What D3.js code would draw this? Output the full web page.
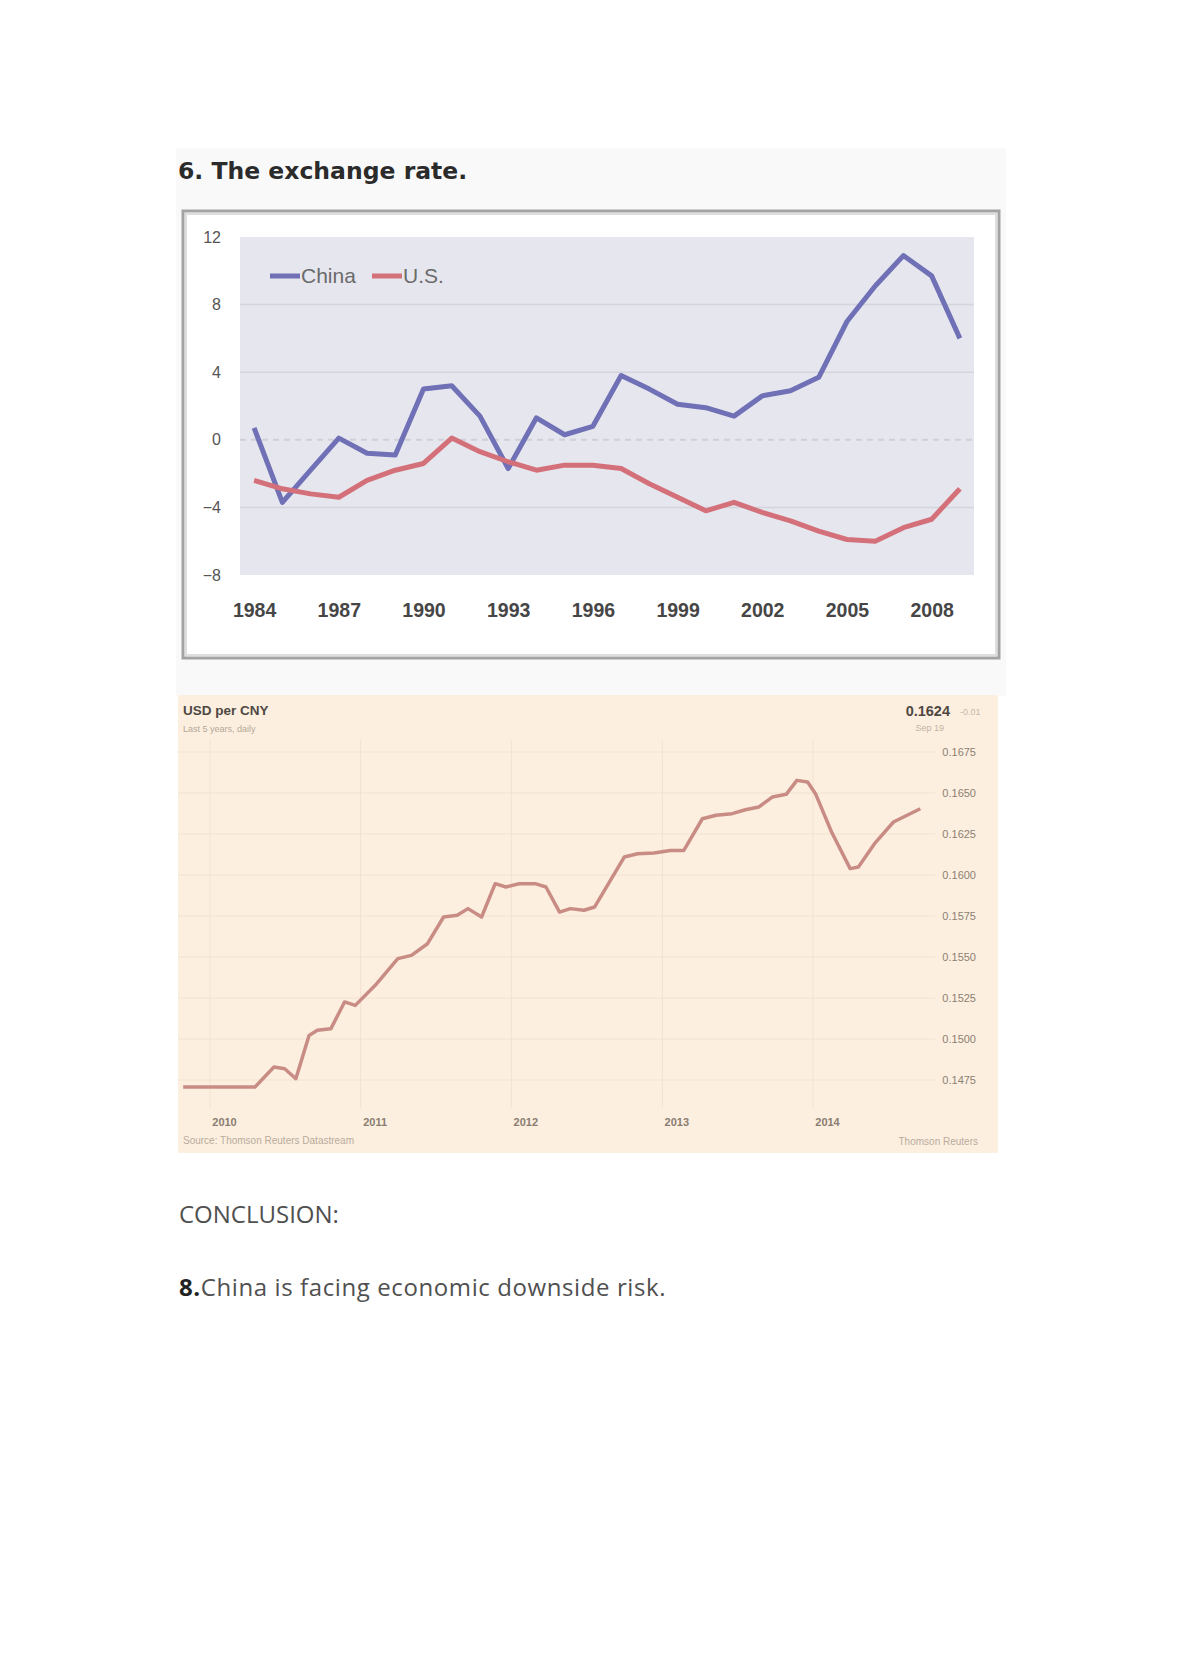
<!DOCTYPE html>
<html>
<head>
<meta charset="utf-8">
<script src="https://cdn.jsdelivr.net/npm/d3@7"></script>
<style>
  html, body { margin: 0; padding: 0; background: #ffffff; }
  svg { display: block; }
</style>
</head>
<body>
<svg id="page" width="1180" height="1669"></svg>
<script>
// ---------- Chart 1: current account balance (% of GDP) ----------
const years = [1984, 1985, 1986, 1987, 1988, 1989, 1990, 1991, 1992, 1993, 1994, 1995, 1996,
               1997, 1998, 1999, 2000, 2001, 2002, 2003, 2004, 2005, 2006, 2007, 2008, 2009];
const chinaValues = [0.7, -3.7, -1.8, 0.1, -0.8, -0.9, 3.0, 3.2, 1.4, -1.7, 1.3, 0.3, 0.8,
                     3.8, 3.0, 2.1, 1.9, 1.4, 2.6, 2.9, 3.7, 7.0, 9.1, 10.9, 9.7, 6.0];
const usValues = [-2.4, -2.9, -3.2, -3.4, -2.4, -1.8, -1.4, 0.1, -0.7, -1.3, -1.8, -1.5, -1.5,
                  -1.7, -2.6, -3.4, -4.2, -3.7, -4.3, -4.8, -5.4, -5.9, -6.0, -5.2, -4.7, -2.9];
const seriesNames = ["China", "U.S."];
const yTicks1 = [12, 8, 4, 0, -4, -8];
const xTickYears = [1984, 1987, 1990, 1993, 1996, 1999, 2002, 2005, 2008];

// ---------- Chart 2: USD per CNY ----------
const ftDates = ["2009-10-28", "2010-04-20", "2010-06-05", "2010-07-01", "2010-07-28", "2010-08-29",
  "2010-09-18", "2010-10-21", "2010-11-23", "2010-12-19", "2011-02-09", "2011-04-01", "2011-05-04",
  "2011-06-12", "2011-07-21", "2011-08-23", "2011-09-18", "2011-10-21", "2011-11-23", "2011-12-19",
  "2012-01-20", "2012-02-28", "2012-03-25", "2012-04-27", "2012-05-23", "2012-06-25", "2012-07-21",
  "2012-10-01", "2012-11-02", "2012-12-12", "2013-01-20", "2013-02-22", "2013-04-08", "2013-05-11",
  "2013-06-19", "2013-07-21", "2013-08-23", "2013-09-25", "2013-10-28", "2013-11-23", "2013-12-19",
  "2014-01-07", "2014-02-15", "2014-04-01", "2014-04-21", "2014-05-30", "2014-07-15", "2014-08-17",
  "2014-09-18"];
const ftValues = [0.14707, 0.14707, 0.14829, 0.14819, 0.14758, 0.15022,
  0.15053, 0.15063, 0.15226, 0.15205, 0.15337, 0.15490, 0.15510,
  0.15581, 0.15744, 0.15754, 0.15795, 0.15744, 0.15947, 0.15927,
  0.15947, 0.15947, 0.15927, 0.15774, 0.15795, 0.15785, 0.15805,
  0.16110, 0.16130, 0.16134, 0.16150, 0.16150, 0.16343, 0.16364,
  0.16374, 0.16398, 0.16415, 0.16476, 0.16492, 0.16577, 0.16567,
  0.16496, 0.16262, 0.16039, 0.16049, 0.16191, 0.16323, 0.16364,
  0.16404];
const ftTicks = [0.1675, 0.1650, 0.1625, 0.1600, 0.1575, 0.1550, 0.1525, 0.1500, 0.1475];
const ftYears = [2010, 2011, 2012, 2013, 2014];

// ---------- texts ----------
const titleText = "6. The exchange rate.";
const ftTitle = "USD per CNY";
const ftSubtitle = "Last 5 years, daily";
const ftLatest = "0.1624";
const ftChange = "-0.01";
const ftLatestDate = "Sep 19";
const ftSource = "Source: Thomson Reuters Datastream";
const ftCredit = "Thomson Reuters";
const conclusionHead = "CONCLUSION:";
const conclusionNum = "8.";
const conclusionText = "China is facing economic downside risk.";

const svg = d3.select("#page");

// faint article background
svg.append("rect").attr("x", 176).attr("y", 148).attr("width", 830).attr("height", 548)
  .attr("fill", "#f9f9f9");

// title
svg.append("text").attr("x", 178).attr("y", 179)
  .attr("font-family", "DejaVu Sans, Verdana, sans-serif").attr("font-weight", "bold")
  .attr("font-size", 23.5).attr("fill", "#2b2b2b").text(titleText);

// ---------- Chart 1 ----------
const frame = svg.append("g");
frame.append("rect").attr("x", 183).attr("y", 211).attr("width", 816).attr("height", 447)
  .attr("fill", "#ffffff").attr("stroke", "#a3a3a3").attr("stroke-width", 3);
frame.append("rect").attr("x", 186).attr("y", 214).attr("width", 810).attr("height", 441)
  .attr("fill", "none").attr("stroke", "#dedede").attr("stroke-width", 2);

const x1 = d3.scalePoint().domain(years).range([240, 974]).padding(0.5);
const y1 = d3.scaleLinear().domain([-8, 12]).range([575, 237]);

const plot = svg.append("g");
plot.append("rect").attr("x", 240).attr("y", y1(12)).attr("width", 734)
  .attr("height", y1(-8) - y1(12)).attr("fill", "#e6e7ee");

plot.selectAll("line.grid").data(yTicks1.filter(d => d !== 0 && d !== 12 && d !== -8)).join("line")
  .attr("class", "grid").attr("x1", 240).attr("x2", 974)
  .attr("y1", d => y1(d)).attr("y2", d => y1(d))
  .attr("stroke", "#d3d4dc").attr("stroke-width", 1.5);
plot.append("line").attr("x1", 240).attr("x2", 974).attr("y1", y1(0)).attr("y2", y1(0))
  .attr("stroke", "#cfd0d8").attr("stroke-width", 2).attr("stroke-dasharray", "6,5");

// y axis labels
const yAxis1 = d3.axisLeft(y1).tickValues(yTicks1).tickSize(0).tickPadding(0).tickFormat(d3.format("d"));
const gy1 = svg.append("g").attr("transform", "translate(221,0)").call(yAxis1);
gy1.select(".domain").remove();
gy1.selectAll("text").attr("font-family", "Liberation Sans, Arial, sans-serif")
  .attr("font-size", 16).attr("fill", "#555555");

// x axis labels
const xAxis1 = d3.axisBottom(x1).tickValues(xTickYears).tickSize(0).tickPadding(0);
const gx1 = svg.append("g").attr("transform", "translate(0,603)").call(xAxis1);
gx1.select(".domain").remove();
gx1.selectAll("text").attr("font-family", "Liberation Sans, Arial, sans-serif")
  .attr("font-size", 19.5).attr("font-weight", "bold").attr("fill", "#464646");

const line1 = d3.line().x((d, i) => x1(years[i])).y(d => y1(d));
const colors1 = ["#7070b6", "#d4707a"];
[chinaValues, usValues].forEach((vals, k) => {
  plot.append("path").datum(vals).attr("d", line1).attr("fill", "none")
    .attr("stroke", colors1[k]).attr("stroke-width", 5).attr("stroke-linejoin", "round");
});

// legend
const legend = svg.append("g").attr("font-family", "Liberation Sans, Arial, sans-serif")
  .attr("font-size", 21).attr("fill", "#6a6a6a");
const legendX = [270, 372];
seriesNames.forEach((name, k) => {
  legend.append("line").attr("x1", legendX[k]).attr("x2", legendX[k] + 30)
    .attr("y1", 276).attr("y2", 276).attr("stroke", colors1[k]).attr("stroke-width", 5);
  legend.append("text").attr("x", legendX[k] + 31).attr("y", 283).text(name);
});

// ---------- Chart 2 (FT style) ----------
const ft = svg.append("g");
ft.append("rect").attr("x", 178).attr("y", 695).attr("width", 820).attr("height", 458)
  .attr("fill", "#fcefe0");

const parse = d3.timeParse("%Y-%m-%d");
const x2 = d3.scaleTime().domain([parse("2010-01-01"), parse("2014-01-01")]).range([210, 813]);
const y2 = d3.scaleLinear().domain([0.1475, 0.1675]).range([1080, 752]);

ft.selectAll("line.hgrid").data(ftTicks).join("line").attr("class", "hgrid")
  .attr("x1", 178).attr("x2", 935).attr("y1", d => y2(d)).attr("y2", d => y2(d))
  .attr("stroke", "#f3e1cf").attr("stroke-width", 1);
ft.selectAll("line.vgrid").data(ftYears).join("line").attr("class", "vgrid")
  .attr("x1", d => x2(parse(d + "-01-01"))).attr("x2", d => x2(parse(d + "-01-01")))
  .attr("y1", 740).attr("y2", 1108).attr("stroke", "#f3e1cf").attr("stroke-width", 1);

const yAxis2 = d3.axisRight(y2).tickValues(ftTicks).tickSize(0).tickPadding(0).tickFormat(d3.format(".4f"));
const gy2 = ft.append("g").attr("transform", "translate(976,0)").call(yAxis2);
gy2.select(".domain").remove();
gy2.selectAll("text").attr("text-anchor", "end").attr("font-family", "Liberation Sans, Arial, sans-serif")
  .attr("font-size", 11).attr("fill", "#8c7f72");

const xAxis2 = d3.axisBottom(x2).tickValues(ftYears.map(d => parse(d + "-01-01")))
  .tickSize(0).tickPadding(0).tickFormat(d3.timeFormat("%Y"));
const gx2 = ft.append("g").attr("transform", "translate(14,1118)").call(xAxis2);
gx2.select(".domain").remove();
gx2.selectAll("text").attr("font-family", "Liberation Sans, Arial, sans-serif")
  .attr("font-size", 11).attr("font-weight", "bold").attr("fill", "#8a7d70");

const line2 = d3.line().x((d, i) => x2(parse(ftDates[i]))).y(d => y2(d));
ft.append("path").datum(ftValues).attr("d", line2).attr("fill", "none")
  .attr("stroke", "#c98c84").attr("stroke-width", 3.5).attr("stroke-linejoin", "round");

ft.append("text").attr("x", 183).attr("y", 715).attr("font-family", "Liberation Sans, Arial, sans-serif")
  .attr("font-size", 13.5).attr("font-weight", "bold").attr("fill", "#4f4842").text(ftTitle);
ft.append("text").attr("x", 183).attr("y", 732).attr("font-family", "Liberation Sans, Arial, sans-serif")
  .attr("font-size", 9).attr("fill", "#b5a798").text(ftSubtitle);
ft.append("text").attr("x", 950).attr("y", 716).attr("text-anchor", "end")
  .attr("font-family", "Liberation Sans, Arial, sans-serif")
  .attr("font-size", 14.5).attr("font-weight", "bold").attr("fill", "#4f4842").text(ftLatest);
ft.append("text").attr("x", 960).attr("y", 715).attr("font-family", "Liberation Sans, Arial, sans-serif")
  .attr("font-size", 9).attr("fill", "#c7b9aa").text(ftChange);
ft.append("text").attr("x", 944).attr("y", 731).attr("text-anchor", "end")
  .attr("font-family", "Liberation Sans, Arial, sans-serif")
  .attr("font-size", 9).attr("fill", "#c2b4a5").text(ftLatestDate);
ft.append("text").attr("x", 183).attr("y", 1144).attr("font-family", "Liberation Sans, Arial, sans-serif")
  .attr("font-size", 10).attr("fill", "#b9ab9c").text(ftSource);
ft.append("text").attr("x", 978).attr("y", 1145).attr("text-anchor", "end")
  .attr("font-family", "Liberation Sans, Arial, sans-serif")
  .attr("font-size", 10).attr("fill", "#b9ab9c").text(ftCredit);

// ---------- Conclusion ----------
svg.append("text").attr("x", 179).attr("y", 1223).attr("font-family", "Open Sans, sans-serif")
  .attr("font-size", 24).attr("fill", "#505050").text(conclusionHead);
const c = svg.append("text").attr("x", 179).attr("y", 1296).attr("font-family", "Open Sans, sans-serif")
  .attr("font-size", 24).attr("fill", "#505050").attr("letter-spacing", 0.6);
c.append("tspan").attr("font-weight", "bold").attr("fill", "#222").text(conclusionNum);
c.append("tspan").text(conclusionText);
</script>
</body>
</html>
